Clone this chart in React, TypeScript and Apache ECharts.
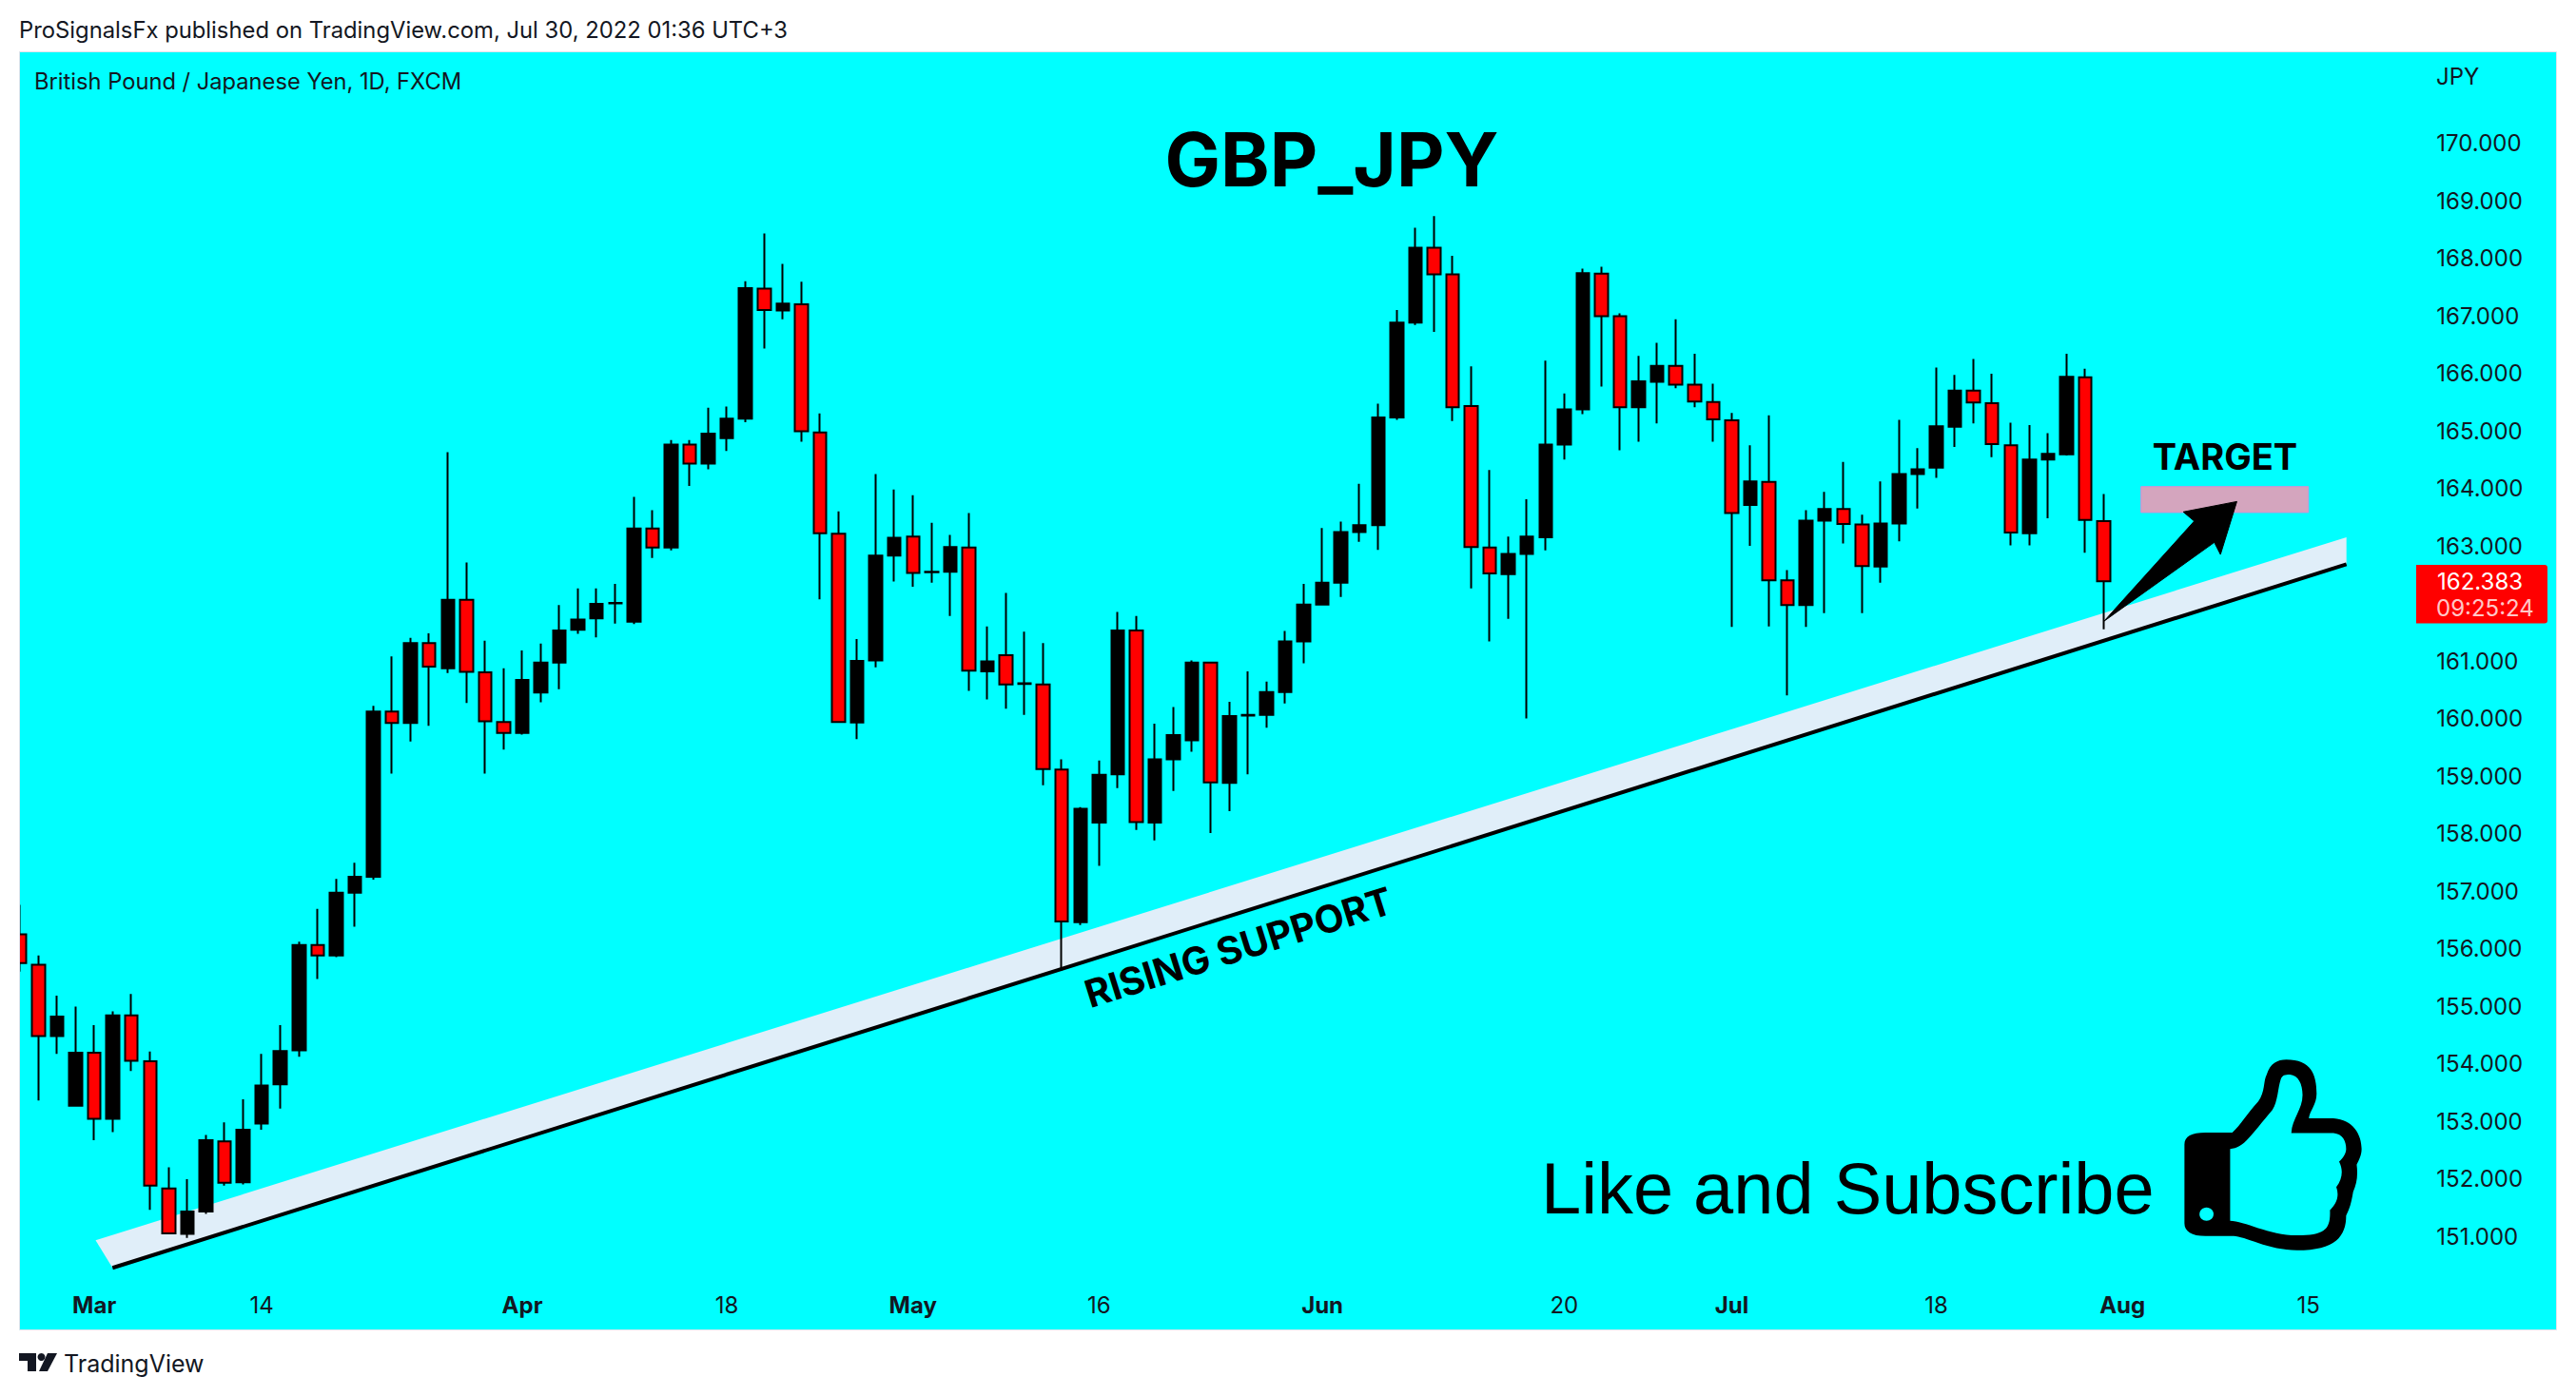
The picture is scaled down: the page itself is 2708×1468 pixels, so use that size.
import React, { useEffect, useRef } from "react";
import * as echarts from "echarts";

const WIDTH = 2708;
const HEIGHT = 1468;
const BAR_STEP = 19.56;
const FUTURE_BARS = 16;

const opens = [156.25,155.72,154.48,153.27,154.19,153.04,154.84,154.04,151.83,151.04,151.43,152.65,151.94,152.96,153.64,154.23,156.06,155.88,156.97,157.25,160.12,159.92,161.31,160.87,162.06,160.80,159.94,159.75,160.45,160.97,161.54,161.74,162.00,161.68,163.30,162.97,164.76,164.43,164.87,165.21,167.47,167.09,167.20,164.97,163.21,159.93,161.01,162.83,163.16,162.54,162.55,162.97,160.82,161.10,160.60,160.59,159.11,156.46,158.19,159.03,161.53,158.19,159.29,159.62,160.97,158.88,160.05,160.06,160.46,161.34,161.98,162.36,163.24,163.36,165.23,166.88,168.18,167.72,165.43,162.97,162.51,162.86,163.15,164.76,165.37,167.73,166.99,165.41,165.85,166.13,165.80,165.50,165.18,163.71,164.11,162.40,161.97,163.44,163.64,163.37,162.64,163.39,164.25,164.36,165.07,165.70,165.48,164.75,163.22,164.50,164.59,165.93,163.43];
const closes = [155.75,154.48,154.82,154.19,153.04,154.84,154.05,151.88,151.05,151.43,152.67,151.93,152.85,153.62,154.22,156.06,155.88,156.97,157.25,160.12,159.92,161.31,160.90,162.06,160.81,159.95,159.75,160.67,160.97,161.53,161.72,161.99,162.01,163.30,162.97,164.76,164.43,164.95,165.21,167.48,167.10,167.21,164.99,163.22,159.94,161.00,162.83,163.14,162.53,162.55,162.98,160.83,160.99,160.59,160.61,159.12,156.47,158.43,159.02,161.53,158.20,159.29,159.71,160.97,158.89,160.04,160.06,160.46,161.34,161.98,162.36,163.24,163.36,165.23,166.88,168.18,167.72,165.41,162.98,162.52,162.86,163.16,164.76,165.37,167.74,166.99,165.41,165.86,166.13,165.80,165.51,165.20,163.57,164.12,162.40,161.97,163.44,163.64,163.38,162.65,163.39,164.25,164.33,165.08,165.70,165.49,164.77,163.23,164.50,164.60,165.94,163.45,162.383];
const highs = [156.76,155.88,155.18,154.99,154.67,154.91,155.21,154.21,152.20,151.99,152.76,152.98,153.38,154.17,154.67,156.12,156.69,157.21,157.49,160.22,161.08,161.40,161.48,164.63,162.71,161.35,160.87,161.18,161.30,161.97,162.26,162.26,162.34,163.85,163.62,164.84,164.84,165.40,165.42,167.60,168.43,167.90,167.59,165.30,163.60,161.38,164.25,163.98,163.88,163.40,163.19,163.57,161.60,162.18,161.51,161.31,159.29,158.46,159.27,161.85,161.78,159.91,160.20,161.01,160.97,160.29,160.82,160.64,161.52,162.34,163.31,163.42,164.08,165.47,167.10,168.53,168.73,168.04,166.12,164.32,163.16,163.81,166.22,165.65,167.82,167.85,167.04,166.30,166.53,166.94,166.34,165.82,165.31,164.75,165.27,162.58,163.62,163.94,164.46,163.54,164.12,165.19,164.70,166.10,165.97,166.25,165.99,165.14,165.10,164.96,166.34,166.08,163.90];
const lows = [155.60,153.36,154.17,153.27,152.67,152.81,153.87,151.46,151.05,150.97,151.39,151.88,151.90,152.85,153.22,154.12,155.47,155.85,156.38,157.20,159.04,159.60,159.87,160.79,160.27,159.04,159.46,159.72,160.28,160.51,161.47,161.41,161.65,161.64,162.79,162.92,164.04,164.33,164.65,165.15,166.43,166.94,164.81,162.07,159.94,159.64,160.89,162.38,162.29,162.36,161.78,160.48,160.33,160.17,160.06,158.84,155.61,156.41,157.44,158.79,158.06,157.88,158.74,159.42,158.01,158.39,159.03,159.84,160.26,160.96,161.98,162.11,163.07,162.93,165.19,166.84,166.72,165.17,162.26,161.34,161.73,160.00,162.92,164.50,165.29,165.77,164.66,164.81,165.13,165.74,165.41,164.81,161.59,163.00,161.60,160.40,161.59,161.83,163.04,161.83,162.36,163.08,163.65,164.18,164.72,165.13,164.54,163.01,163.01,163.48,164.57,162.88,161.55];

const tickDates = ["2022-03-01","2022-03-14","2022-04-01","2022-04-18","2022-05-02","2022-05-16","2022-06-01","2022-06-20","2022-07-01","2022-07-18","2022-08-01","2022-08-15"];
const tickLabels = ["Mar","14","Apr","18","May","16","Jun","20","Jul","18","Aug","15"];
const monthLabels = ["Mar","Apr","May","Jun","Jul","Aug"];
const hiddenPriceLabels = [150, 162, 171];

// annotation anchors as [bar index, price]
const supportLine = [[4.98,150.45],[125.04,162.68]];
const supportBand = [[4.07,150.93],[125.04,163.15],[125.04,162.68],[4.98,150.45]];
const targetZone = [[114,164.03],[123,164.03],[123,163.58],[114,163.58]];
const targetArrow = [[119.15,163.77],[116.27,163.59],[116.86,163.43],[112.01,161.69],[117.94,163.06],[118.27,162.85]];

const lastPrice = "162.383";
const countdown = "09:25:24";

const INK = "#131722";
const UI = "Inter, 'Noto Sans', sans-serif";
const HEAD = "'Liberation Sans', Arial, sans-serif";

const businessDays = (start: string, count: number) => {
  const out: string[] = [];
  const d = new Date(start + "T00:00:00Z");
  while (out.length < count) {
    const wd = d.getUTCDay();
    if (wd !== 0 && wd !== 6) out.push(d.toISOString().slice(0, 10));
    d.setUTCDate(d.getUTCDate() + 1);
  }
  return out;
};

const categories = businessDays("2022-02-23", opens.length + FUTURE_BARS);

echarts.graphic.registerShape(
  "thumbOuter",
  echarts.graphic.extendPath(
    "M1040 333L1078 333C1090 310 1100 270 1115 235C1125 205 1122 170 1127 150C1132 115 1142 103 1155 103C1190 103 1198 150 1198 210C1198 245 1188 265 1187 288L1222 288C1250 292 1262 340 1262 385C1262 405 1258 420 1255 435C1257 470 1255 495 1250 520C1248 545 1246 570 1240 595C1240 660 1225 705 1170 705C1130 705 1095 660 1080 660L1040 660C1020 660 1010 645 1010 620L1010 370C1010 345 1020 333 1040 333Z",
    {}
  )
);
echarts.graphic.registerShape(
  "thumbInner",
  echarts.graphic.extendPath(
    "M1075 385C1095 382 1105 340 1135 262C1143 235 1143 190 1147 165C1149 152 1153 150 1160 150C1172 152 1178 180 1178 215C1178 260 1163 290 1162 335L1222 335C1235 338 1240 360 1240 385C1240 400 1235 415 1230 425C1236 450 1235 480 1226 505C1230 530 1228 555 1217 578C1218 640 1210 658 1170 658C1130 658 1095 612 1075 612Z",
    {}
  )
);

const polygonSeries = (name: string, points: number[][], style: any, z: number) => ({
  type: "custom",
  name,
  xAxisIndex: 1,
  yAxisIndex: 0,
  z,
  clip: false,
  silent: true,
  data: points,
  encode: { x: 0, y: 1 },
  renderItem: (params: any, api: any) => {
    if (params.dataIndex !== 0) return null;
    return {
      type: "polygon",
      shape: { points: points.map((p) => api.coord(p)) },
      style,
    };
  },
});

const text = (t: string, x: number, y: number, font: string, fill = INK, align = "left", z = 20) => ({
  type: "text",
  x,
  y,
  z,
  style: { text: t, font, fill, textAlign: align, textVerticalAlign: "middle" },
});

export default function App() {
  const ref = useRef<HTMLDivElement>(null);
  useEffect(() => {
    const chart = echarts.init(ref.current!, undefined, { renderer: "svg" });
    chart.setOption({
      animation: false,
      backgroundColor: "#ffffff",
      grid: { left: 11.1, right: WIDTH - (11.1 + BAR_STEP * categories.length), top: 90, bottom: 107.5 },
      xAxis: [
        {
          type: "category",
          data: categories,
          boundaryGap: true,
          axisLine: { show: false },
          axisTick: { show: false },
          splitLine: { show: false },
          axisLabel: {
            margin: 0,
            hideOverlap: false,
            interval: (_: number, v: string) => tickDates.includes(v),
            formatter: (v: string) => {
              const l = tickLabels[tickDates.indexOf(v)] ?? "";
              return monthLabels.includes(l) ? `{m|${l}}` : `{d|${l}}`;
            },
            rich: {
              m: { fontFamily: UI, fontSize: 24, fontWeight: 700, color: INK },
              d: { fontFamily: UI, fontSize: 24, fontWeight: 400, color: INK },
            },
          },
        },
        { type: "value", min: -0.5, max: categories.length - 0.5, show: false },
      ],
      yAxis: {
        type: "value",
        position: "right",
        min: 150,
        max: 171,
        interval: 1,
        axisLine: { show: false },
        axisTick: { show: false },
        splitLine: { show: false },
        axisLabel: {
          margin: 27,
          align: "left",
          fontFamily: UI,
          fontSize: 24,
          color: INK,
          formatter: (v: number) => (hiddenPriceLabels.includes(v) ? "" : v.toFixed(3)),
        },
      },
      series: [
        polygonSeries("Support band", supportBand, { fill: "#E0EEF9" }, 1),
        {
          type: "line",
          name: "Rising support",
          xAxisIndex: 1,
          yAxisIndex: 0,
          z: 3,
          data: supportLine,
          showSymbol: false,
          silent: true,
          lineStyle: { color: "#000000", width: 4 },
        },
        {
          type: "candlestick",
          name: "GBP/JPY",
          xAxisIndex: 0,
          yAxisIndex: 0,
          z: 4,
          barWidth: 14,
          data: opens.map((o, i) => [o, closes[i], lows[i], highs[i]]),
          itemStyle: {
            color: "#000000",
            color0: "#FF0000",
            borderColor: "#000000",
            borderColor0: "#000000",
            borderWidth: 2,
          },
        },
        polygonSeries("Target zone", targetZone, { fill: "#D4A5BE", stroke: "#CE93D8", lineWidth: 1 }, 5),
        polygonSeries("Arrow", targetArrow, { fill: "#000000", stroke: "#000000", lineWidth: 1, lineJoin: "round" }, 6),
      ],
      graphic: {
        elements: [
          { type: "rect", z: -10, shape: { x: 20.5, y: 54.5, width: 2667, height: 1344 }, style: { fill: "#00FFFF", stroke: "#E0E3EB", lineWidth: 1 } },
          { type: "rect", z: 10, shape: { x: 0, y: 54, width: 20, height: 1345 }, style: { fill: "#ffffff" } },
          { type: "line", z: 11, shape: { x1: 20.5, y1: 54, x2: 20.5, y2: 1398 }, style: { stroke: "#E0E3EB", lineWidth: 1 } },

          text("ProSignalsFx published on TradingView.com, Jul 30, 2022 01:36 UTC+3", 20, 31, `400 23.8px ${UI}`),
          text("British Pound / Japanese Yen, 1D, FXCM", 36, 85, `400 23.7px ${UI}`),
          text("JPY", 2561, 80, `400 24px ${UI}`),
          text("GBP_JPY", 1400, 167, `700 78px ${UI}`, "#000000", "center"),
          text("TARGET", 2339, 480, `700 38px ${UI}`, "#000000", "center"),
          text("Like and Subscribe", 1620, 1249, `400 75.8px ${HEAD}`, "#000000"),
          {
            type: "text",
            x: 1302,
            y: 996,
            z: 20,
            rotation: 0.305,
            style: { text: "RISING SUPPORT", font: `700 40px ${UI}`, fill: "#000000", textAlign: "center", textVerticalAlign: "middle" },
          },

          { type: "rect", z: 20, shape: { x: 2540, y: 594, width: 138, height: 61.5, r: [0, 3, 3, 0] }, style: { fill: "#FF0000" } },
          text(lastPrice, 2562, 611, `400 24px ${UI}`, "#ffffff", "left", 21),
          text(countdown, 2561, 639, `400 24px ${UI}`, "rgba(255,255,255,0.8)", "left", 21),

          { type: "thumbOuter", x: 1550, y: 1080, scaleX: 1 / 1.354, scaleY: 1 / 3, z: 20, style: { fill: "#000000" } },
          { type: "thumbInner", x: 1550, y: 1080, scaleX: 1 / 1.354, scaleY: 1 / 3, z: 21, style: { fill: "#00FFFF" } },
          { type: "ellipse", z: 21, shape: { cx: 1550 + 1042 / 1.354, cy: 1080 + 590 / 3, rx: 7.4, ry: 7 }, style: { fill: "#00FFFF" } },

          { type: "polygon", z: 20, shape: { points: [[20, 1423], [38, 1423], [38, 1442], [29, 1442], [29, 1431], [20, 1431]] }, style: { fill: INK } },
          { type: "circle", z: 20, shape: { cx: 43.5, cy: 1427, r: 4 }, style: { fill: INK } },
          { type: "polygon", z: 20, shape: { points: [[50, 1423], [60, 1423], [50, 1442], [41, 1442]] }, style: { fill: INK } },
          text("TradingView", 67, 1434, `400 25px ${UI}`),
        ],
      },
    });
    return () => chart.dispose();
  }, []);
  return <div ref={ref} style={{ position: "absolute", left: 0, top: 0, width: WIDTH, height: HEIGHT }} />;
}
